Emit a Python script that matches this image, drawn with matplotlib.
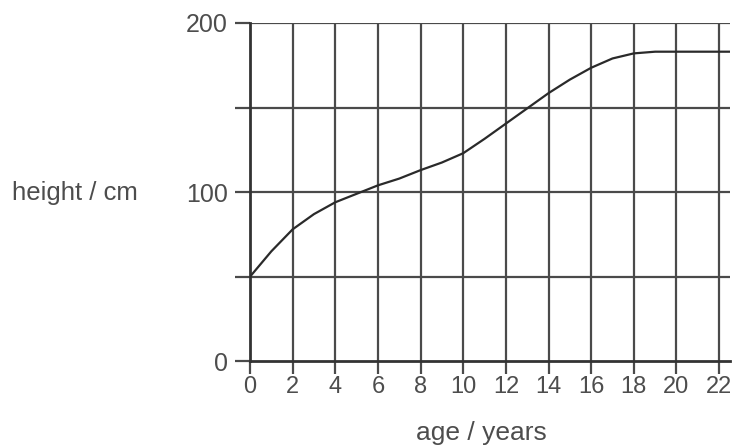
import matplotlib.pyplot as plt

# growth curve, one point per year
age = [0, 1, 2, 3, 4, 5, 6, 7, 8, 9, 10, 11, 12, 13, 14, 15, 16, 17, 18, 19, 20, 21, 22, 22.5]
height = [50, 65, 78, 87, 94, 99, 104, 108, 113, 117.5, 123, 131.5, 140.5, 149.5, 158.5, 166.5,
          173.5, 179, 182, 183, 183, 183, 183, 183]

x_ticks = list(range(0, 23, 2))
y_ticks = [0, 50, 100, 150, 200]
y_labels = ['0', '', '100', '', '200']

plt.rcParams['font.family'] = ['Liberation Sans', 'DejaVu Sans']

fig = plt.figure(figsize=(7.37, 4.47), dpi=100)
ax = fig.add_axes([0.3392, 0.1917, 0.651, 0.757])

grid_col = '#4a4a4a'
for x in x_ticks[1:]:
    ax.axvline(x, color=grid_col, lw=1.6, zorder=1)
for y in y_ticks[1:]:
    ax.axhline(y, color=grid_col, lw=1.6, zorder=1)

ax.plot(age, height, color='#2a2a2a', lw=1.6, zorder=3)

ax.set_xlim(0, 22.5)
ax.set_ylim(0, 200)
ax.set_xticks(x_ticks)
ax.set_yticks(y_ticks)
ax.set_yticklabels(y_labels)

for s in ['top', 'right']:
    ax.spines[s].set_visible(False)
for s in ['left', 'bottom']:
    ax.spines[s].set_color('#333333')
    ax.spines[s].set_linewidth(2)
    ax.spines[s].set_zorder(2)

ax.tick_params(axis='x', direction='out', length=9, width=1.6, color=grid_col,
               pad=1.5, labelsize=17, labelcolor='#4d4d4d')
ax.tick_params(axis='y', direction='out', length=11, width=1.6, color=grid_col,
               pad=5, labelsize=18, labelcolor='#4d4d4d')

ax.set_xlabel('age / years', fontsize=19, color='#4d4d4d', va='center')
ax.xaxis.set_label_coords(0.483, -0.212)
fig.text(0.0163, 0.568, 'height / cm', fontsize=18.5, color='#4d4d4d', va='center', ha='left')

fig.savefig('out.png', dpi=100)
